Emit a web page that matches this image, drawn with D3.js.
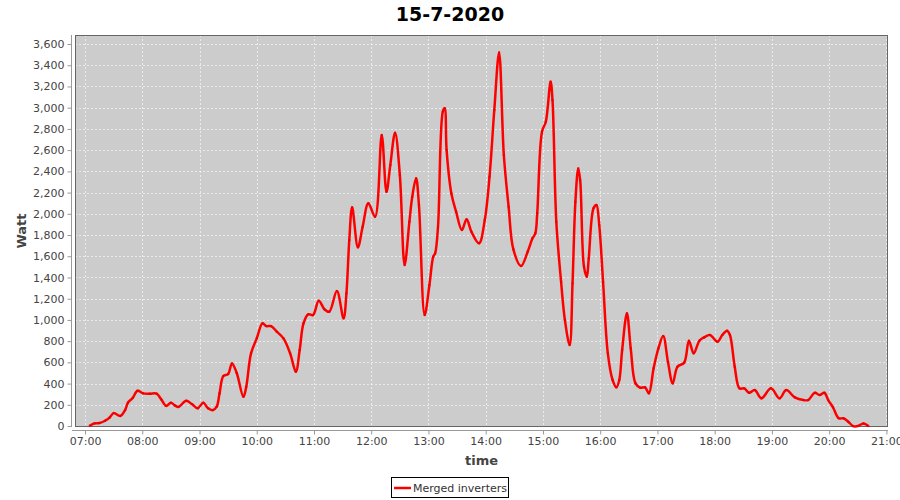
<!DOCTYPE html>
<html>
<head>
<meta charset="utf-8">
<script src="https://cdn.jsdelivr.net/npm/d3@7"></script>
<style>
  body { margin: 0; background: #fff; }
  svg { display: block; font-family: "DejaVu Sans", sans-serif; }
</style>
</head>
<body>
<div id="chart"></div>
<script>
// readings from the picture (time of day, watt)
var times = ["07:05","07:10","07:15","07:21","07:26","07:30","07:37","07:42","07:45","07:50","07:55",
  "08:01","08:08","08:15","08:20","08:25","08:30","08:34","08:38","08:46","08:52","08:58",
  "09:04","09:09","09:14","09:18","09:21","09:25","09:30","09:34","09:39","09:46","09:49","09:54",
  "10:00","10:06","10:10","10:15","10:21","10:28","10:35","10:41","10:45","10:49","10:54","10:59",
  "11:05","11:11","11:16","11:24","11:31","11:34","11:37","11:40","11:46","11:51","11:57",
  "12:04","12:11","12:16","12:20","12:25","12:30","12:35","12:40","12:43","12:47","12:50","12:56",
  "13:01","13:05","13:07","13:10","13:15","13:17","13:19","13:24","13:29","13:35","13:40","13:45","13:53","13:59",
  "14:04","14:09","14:14","14:19","14:24","14:29","14:37","14:44","14:49","14:52","14:54","14:59",
  "15:03","15:08","15:10","15:14","15:19","15:23","15:28","15:31","15:34","15:37","15:39","15:43","15:46","15:48","15:53","15:56","15:59",
  "16:03","16:08","16:13","16:17","16:20","16:23","16:28","16:32","16:37","16:42","16:47","16:51","16:56",
  "17:01","17:06","17:11","17:16","17:21","17:28","17:33","17:38","17:44","17:49","17:55",
  "18:03","18:08","18:13","18:16","18:21","18:26","18:31","18:36","18:42","18:49","18:59",
  "19:08","19:15","19:24","19:33","19:38","19:45","19:50","19:55","19:59",
  "20:04","20:10","20:15","20:20","20:25","20:30","20:36","20:41"];
var watts = [3,25,28,50,82,122,95,150,220,265,332,
  308,305,305,250,190,220,195,180,238,207,167,
  220,167,150,182,308,471,490,590,500,276,370,685,
  826,968,942,942,889,826,685,512,716,968,1053,1046,
  1181,1100,1077,1272,1015,1250,1753,2061,1684,1878,2099,
  1972,2742,2208,2460,2764,2365,1517,1925,2161,2334,2083,1046,
  1329,1596,1627,1878,2962,2994,2601,2192,2019,1847,1948,1831,1722,1941,
  2350,2978,3520,2554,2067,1665,1508,1643,1769,1816,2004,2774,
  2868,3245,3072,1925,1360,999,763,1345,2114,2428,2318,1501,1407,1580,2052,2083,1894,
  1360,685,434,365,434,716,1062,732,402,361,365,308,544,
  732,848,606,402,559,597,804,685,804,836,858,
  795,858,898,858,559,355,355,314,339,261,355,
  261,339,270,245,245,314,292,314,245,
  176,73,73,41,0,0,25,0];
var yTicks = d3.range(0, 3601, 200);
var chartTitle = "15-7-2020";
var seriesName = "Merged inverters";

function toDate(s) {
  var p = s.split(":");
  return new Date(2020, 6, 15, +p[0], +p[1]);
}
var data = times.map(function(t, i) { return { t: toDate(t), v: watts[i] }; });

var W = 900, H = 500;
var plot = { left: 75, right: 888, top: 35, bottom: 427 };

var svg = d3.select("#chart").append("svg")
  .attr("width", W).attr("height", H);

var x = d3.scaleTime()
  .domain([new Date(2020, 6, 15, 6, 49, 30), new Date(2020, 6, 15, 21, 1, 40)])
  .range([plot.left, plot.right]);
var y = d3.scaleLinear()
  .domain([-9, 3685])
  .range([plot.bottom, plot.top]);

// title
svg.append("text")
  .attr("x", W / 2).attr("y", 21)
  .attr("text-anchor", "middle")
  .style("font-size", "19px").style("font-weight", "bold")
  .attr("fill", "#000")
  .text(chartTitle);

// plot background
svg.append("rect")
  .attr("x", plot.left).attr("y", plot.top)
  .attr("width", plot.right - plot.left).attr("height", plot.bottom - plot.top)
  .attr("fill", "#cccccc");

// grid
var hours = d3.timeHour.range(new Date(2020, 6, 15, 7), new Date(2020, 6, 15, 21, 1));
svg.append("g").selectAll("line").data(hours).enter().append("line")
  .attr("x1", function(d) { return Math.round(x(d)) + 0.5; })
  .attr("x2", function(d) { return Math.round(x(d)) + 0.5; })
  .attr("y1", plot.top).attr("y2", plot.bottom)
  .attr("stroke", "#fff").attr("stroke-width", 0.6).attr("stroke-dasharray", "2,2");
svg.append("g").selectAll("line").data(yTicks).enter().append("line")
  .attr("y1", function(d) { return Math.round(y(d)) + 0.5; })
  .attr("y2", function(d) { return Math.round(y(d)) + 0.5; })
  .attr("x1", plot.left).attr("x2", plot.right)
  .attr("stroke", "#fff").attr("stroke-width", 0.6).attr("stroke-dasharray", "2,2");

// outline
svg.append("rect")
  .attr("x", plot.left + 0.5).attr("y", plot.top + 0.5)
  .attr("width", plot.right - plot.left - 1).attr("height", plot.bottom - plot.top - 1)
  .attr("fill", "none").attr("stroke", "#666").attr("stroke-width", 1);

// axes
var yAxis = svg.append("g")
  .attr("transform", "translate(" + (plot.left - 3.5) + ",0)")
  .call(d3.axisLeft(y).tickValues(yTicks).tickFormat(d3.format(",")).tickSize(4).tickPadding(3));
var xAxis = svg.append("g")
  .attr("transform", "translate(0," + (plot.bottom + 3.5) + ")")
  .call(d3.axisBottom(x).tickValues(hours).tickFormat(d3.timeFormat("%H:%M")).tickSize(4).tickPadding(3));
[xAxis, yAxis].forEach(function(a) {
  a.select(".domain").attr("stroke", "#999");
  a.selectAll(".tick line").attr("stroke", "#999");
  a.selectAll(".tick text").attr("fill", "#444").style("font-size", "11px").style("font-family", "DejaVu Sans");
});
yAxis.select(".domain").attr("d", "M0," + plot.top + "V" + plot.bottom);
xAxis.select(".domain").attr("d", "M" + (plot.left - 3) + ",0H" + plot.right);

// axis labels
svg.append("text")
  .attr("transform", "translate(26," + ((plot.top + plot.bottom) / 2) + ") rotate(-90)")
  .attr("text-anchor", "middle")
  .style("font-size", "13px").style("font-weight", "bold").attr("fill", "#444")
  .text("Watt");
svg.append("text")
  .attr("x", (plot.left + plot.right) / 2).attr("y", 465)
  .attr("text-anchor", "middle")
  .style("font-size", "13px").style("font-weight", "bold").attr("fill", "#444")
  .text("time");

// series
var line = d3.line()
  .x(function(d) { return x(d.t); })
  .y(function(d) { return y(d.v); })
  .curve(d3.curveCatmullRom.alpha(0.5));
svg.append("path").datum(data)
  .attr("d", line)
  .attr("fill", "none").attr("stroke", "#ff0000").attr("stroke-width", 2.5)
  .attr("stroke-linejoin", "round");
svg.append("g").selectAll("rect").data(data).enter().append("rect")
  .attr("x", function(d) { return x(d.t) - 1; })
  .attr("y", function(d) { return y(d.v) - 1; })
  .attr("width", 2).attr("height", 2)
  .attr("fill", "#e80000");

// legend
var lg = svg.append("g");
lg.append("rect").attr("x", 391.5).attr("y", 477.5).attr("width", 117).attr("height", 20)
  .attr("fill", "#fff").attr("stroke", "#000").attr("stroke-width", 1);
lg.append("line").attr("x1", 394).attr("x2", 411).attr("y1", 488).attr("y2", 488)
  .attr("stroke", "#ff0000").attr("stroke-width", 2.5);
lg.append("rect").attr("x", 401.5).attr("y", 487).attr("width", 2).attr("height", 2).attr("fill", "#e80000");
lg.append("text").attr("x", 413).attr("y", 492)
  .style("font-size", "11px").attr("fill", "#333")
  .text(seriesName);
</script>
</body>
</html>
